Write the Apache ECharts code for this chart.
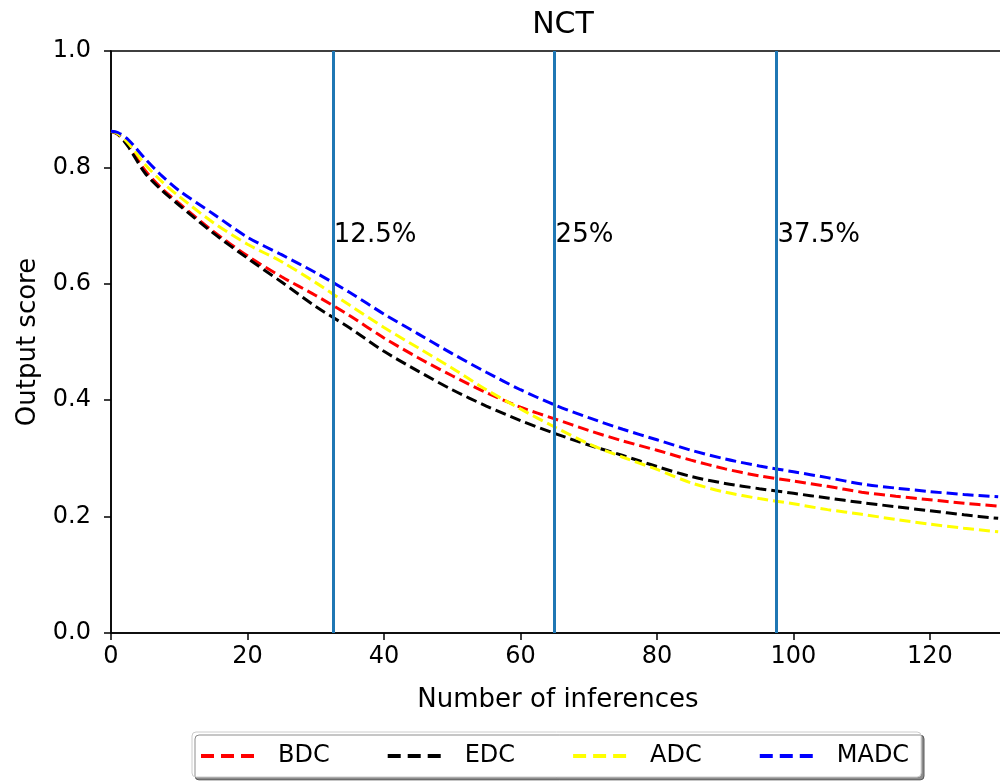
<!DOCTYPE html>
<html lang="en">
  <head>
    <meta charset="UTF-8">
    <title>NCT output score</title>
    <script src="https://cdn.jsdelivr.net/npm/echarts@6/dist/echarts.min.js"></script>
    <style>
      html, body { margin: 0; padding: 0; background: #fff; }
    </style>
  </head>
  <body>
    <div id="main" style="width: 1000px;height:783px;"></div>
    <script type="text/javascript">
      // x positions (number of inferences)
      var xs = [0, 1, 2.5, 5, 7.5, 10, 15, 20, 25, 30, 35, 40, 45, 50, 55, 60, 65, 70, 75, 80, 85, 90, 95, 100, 105, 110, 115, 120, 125, 130];

      var bdc  = [0.862, 0.857, 0.838, 0.795, 0.763, 0.738, 0.690, 0.648, 0.612, 0.580, 0.545, 0.507, 0.473, 0.442, 0.413, 0.388, 0.368, 0.348, 0.330, 0.314, 0.297, 0.282, 0.270, 0.261, 0.252, 0.242, 0.235, 0.229, 0.223, 0.218];
      var edc  = [0.862, 0.857, 0.836, 0.790, 0.760, 0.735, 0.687, 0.644, 0.603, 0.561, 0.524, 0.484, 0.450, 0.418, 0.390, 0.365, 0.343, 0.323, 0.305, 0.286, 0.269, 0.257, 0.248, 0.240, 0.232, 0.224, 0.217, 0.210, 0.203, 0.197];
      var adc  = [0.862, 0.858, 0.842, 0.805, 0.775, 0.750, 0.705, 0.668, 0.638, 0.602, 0.563, 0.525, 0.490, 0.455, 0.418, 0.385, 0.354, 0.325, 0.302, 0.281, 0.258, 0.242, 0.231, 0.222, 0.212, 0.204, 0.195, 0.187, 0.180, 0.174];
      var madc = [0.862, 0.860, 0.848, 0.815, 0.785, 0.760, 0.720, 0.680, 0.650, 0.619, 0.585, 0.548, 0.514, 0.480, 0.448, 0.418, 0.392, 0.370, 0.350, 0.332, 0.314, 0.299, 0.287, 0.277, 0.267, 0.256, 0.249, 0.243, 0.238, 0.234];

      var names  = ['BDC', 'EDC', 'ADC', 'MADC'];
      var colors = ['#ff0000', '#000000', '#ffff00', '#0000ff'];

      // vertical markers and their labels
      var markX = [32.5, 65, 97.5];
      var markText = ['12.5%', '25%', '37.5%'];
      var markY = 0.684;

      var xTicks = [0, 20, 40, 60, 80, 100, 120];
      var yTicks = [0.0, 0.2, 0.4, 0.6, 0.8, 1.0];

      function pairs(ys) {
        return xs.map(function (x, i) { return [x, ys[i]]; });
      }

      var font = 'DejaVu Sans';
      var allSeries = [bdc, edc, adc, madc].map(function (ys, i) {
        return {
          name: names[i],
          type: 'line',
          data: pairs(ys),
          smooth: 0.3,
          symbol: 'none',
          z: 3,
          lineStyle: { color: colors[i], width: 3, type: [11, 5] },
          itemStyle: { color: colors[i] }
        };
      });

      // vertical lines
      allSeries.push({
        name: 'marks',
        type: 'line',
        data: [],
        silent: true,
        z: 4,
        markLine: {
          symbol: 'none',
          silent: true,
          label: { show: false },
          lineStyle: { color: '#1f77b4', width: 3, type: 'solid' },
          data: markX.map(function (x) { return { xAxis: x }; })
        }
      });

      // labels next to the vertical lines
      allSeries.push({
        name: 'markLabels',
        type: 'scatter',
        symbolSize: 0,
        silent: true,
        itemStyle: { opacity: 1 },
        data: markX.map(function (x, i) { return { value: [x, markY], text: markText[i] }; }),
        label: {
          show: true,
          position: 'right',
          distance: 1,
          color: '#000',
          opacity: 1,
          fontFamily: font,
          fontSize: 26,
          formatter: function (p) { return p.data.text; }
        }
      });

      var myChart = echarts.init(document.getElementById('main'));
      myChart.setOption({
        animation: false,
        backgroundColor: '#fff',
        title: {
          text: 'NCT',
          left: 558,
          top: 5,
          textAlign: 'center',
          textStyle: { fontFamily: font, fontSize: 30, fontWeight: 'normal', color: '#000' }
        },
        grid: {
          left: 111, top: 51, width: 894, height: 582,
          containLabel: false,
          outerBoundsMode: 'none',
          show: true, borderColor: '#000', borderWidth: 1.5, backgroundColor: 'transparent'
        },
        xAxis: {
          type: 'value',
          min: 0, max: 131, interval: 20,
          name: 'Number of inferences',
          nameLocation: 'middle',
          nameGap: 54,
          nameTextStyle: { fontFamily: font, fontSize: 26, color: '#000' },
          splitLine: { show: false },
          axisLine: { lineStyle: { color: '#000', width: 1.5 } },
          axisTick: { length: 7, lineStyle: { color: '#000', width: 1.5 } },
          axisLabel: {
            fontFamily: font, fontSize: 24, color: '#000', margin: 12,
            formatter: function (v) { return xTicks.indexOf(v) >= 0 ? String(v) : ''; }
          }
        },
        yAxis: {
          type: 'value',
          min: 0, max: 1, interval: 0.2,
          name: 'Output score',
          nameLocation: 'middle',
          nameGap: 70,
          nameTextStyle: { fontFamily: font, fontSize: 26, color: '#000' },
          splitLine: { show: false },
          axisLine: { lineStyle: { color: '#000', width: 1.5 } },
          axisTick: { length: 7, lineStyle: { color: '#000', width: 1.5 } },
          axisLabel: {
            fontFamily: font, fontSize: 24, color: '#000', margin: 20,
            formatter: function (v) {
              var hit = yTicks.filter(function (t) { return Math.abs(t - v) < 1e-9; });
              return hit.length ? hit[0].toFixed(1) : '';
            }
          }
        },
        legend: {
          data: names,
          left: 192,
          top: 732,
          orient: 'horizontal',
          padding: [12, 12, 9, 9],
          itemGap: 58,
          itemWidth: 53,
          itemHeight: 4,
          icon: 'path://M0,0h13v4h-13z M20,0h13v4h-13z M40,0h13v4h-13z',
          backgroundColor: '#fff',
          borderColor: '#cccccc',
          borderWidth: 1,
          borderRadius: 4,
          shadowColor: 'rgba(0,0,0,0.45)',
          shadowBlur: 0,
          shadowOffsetX: 3,
          shadowOffsetY: 3,
          textStyle: { fontFamily: font, fontSize: 24, color: '#000', padding: [0, 0, 0, 19] }
        },
        series: allSeries
      });
    </script>
  </body>
</html>
